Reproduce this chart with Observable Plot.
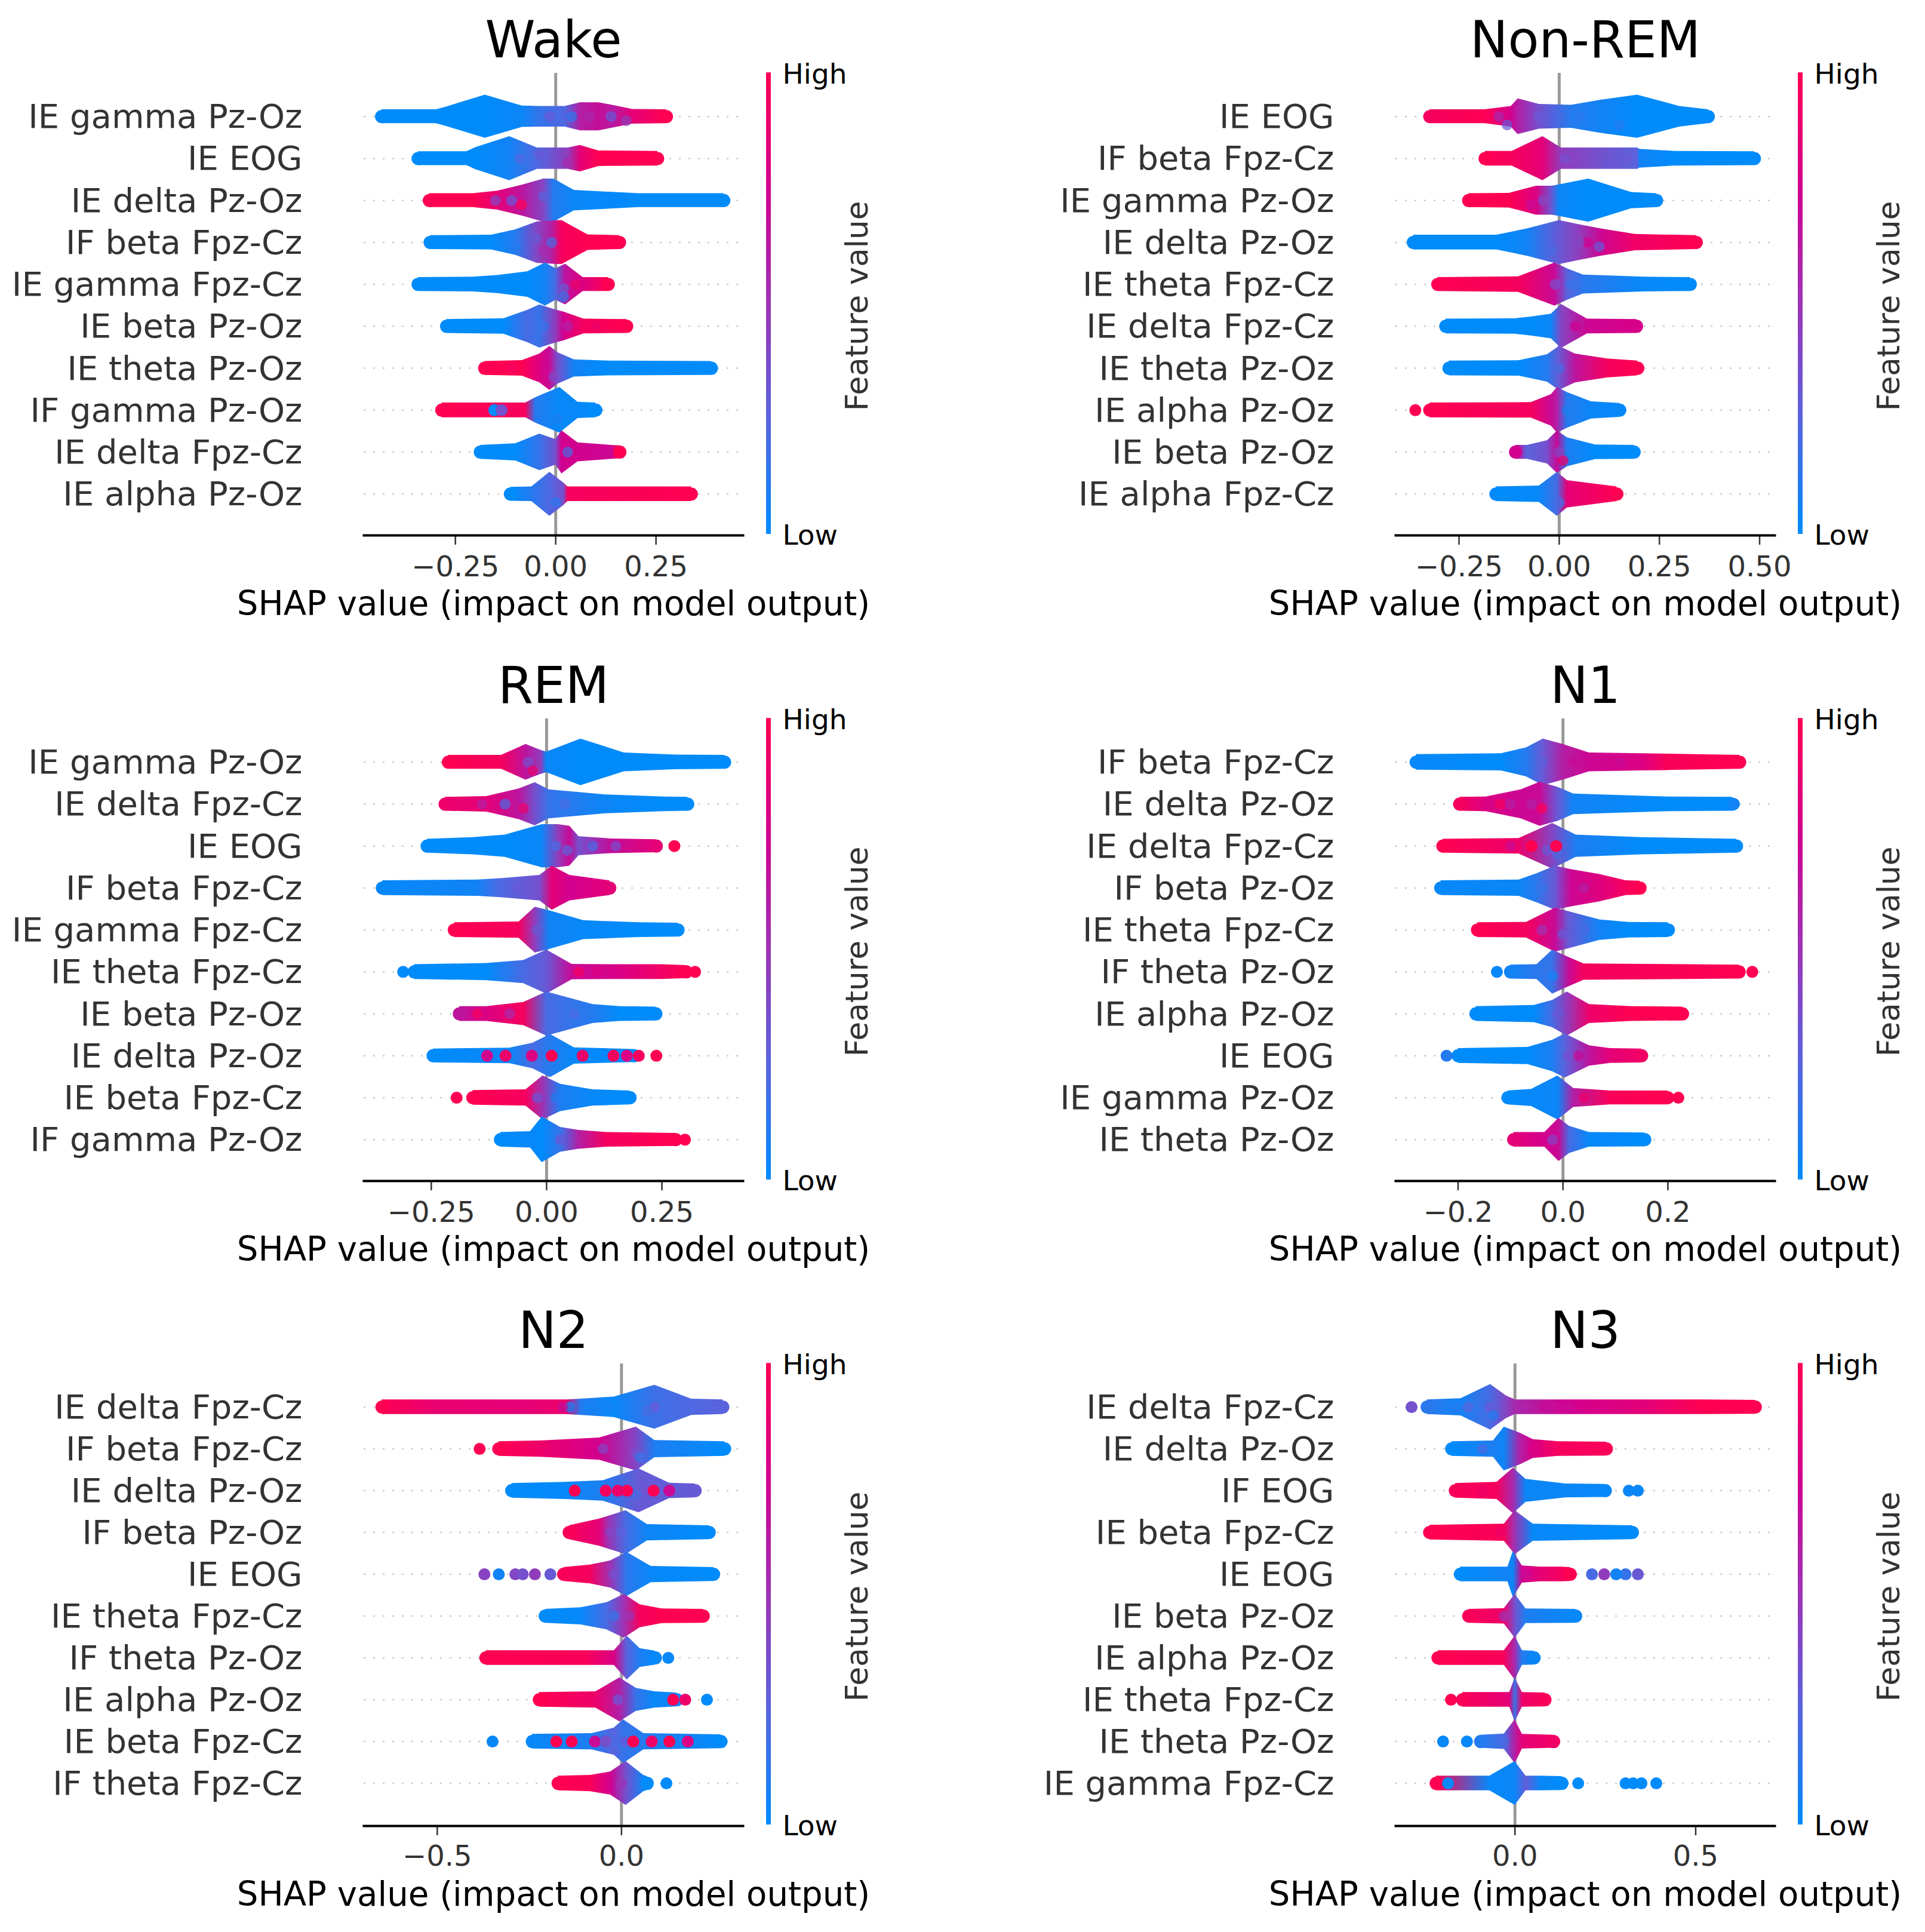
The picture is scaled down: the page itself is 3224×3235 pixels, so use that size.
<!DOCTYPE html>
<html><head><meta charset="utf-8">
<script src="https://cdn.jsdelivr.net/npm/d3@7"></script>
<script src="https://cdn.jsdelivr.net/npm/@observablehq/plot@0.6"></script>
<style>html,body{margin:0;padding:0;background:#fff}#page{position:relative;width:3224px;height:3235px;overflow:hidden;background:#fff}</style>
</head><body><div id="page"></div>
<script>
// Each stop: [SHAP value, swarm half-height in % of a row, feature value 0..1]
// Each dot / mottle: [row, SHAP value, feature value]
const axisLabel = "SHAP value (impact on model output)";

const wakeFeatures = ["IE gamma Pz-Oz","IE EOG","IE delta Pz-Oz","IF beta Fpz-Cz","IE gamma Fpz-Cz","IE beta Pz-Oz","IE theta Pz-Oz","IF gamma Pz-Oz","IE delta Fpz-Cz","IE alpha Pz-Oz"];
const wakeDomain = [-0.478, 0.467];
const wakeTicks = [-0.25, 0, 0.25];
const wakeTickLabels = ["−0.25","0.00","0.25"];
const wakeStops = [
 [[-.434,14,0],[-.298,14,0],[-.275,20,0],[-.176,49,0],[-.084,23,.03],[-.038,22,.15],[.023,22,.22],[.061,31,.6],[.107,31,.68],[.145,24,.62],[.191,15,.85],[.276,14,1]],
 [[-.343,14,0],[-.222,14,0],[-.199,24,0],[-.115,50,.05],[-.046,23,.22],[.031,23,.45],[.061,29,.85],[.107,16,1],[.254,15,1]],
 [[-.315,14,1],[-.206,14,1],[-.145,20,.85],[-.085,34,.65],[-.03,49,.4],[-.005,49,.1],[.046,22,.03],[.207,14,0],[.419,14,0]],
 [[-.313,14,0],[-.16,15,0],[-.1,28,.1],[-.046,47,.4],[-.01,49,.6],[.015,50,.95],[.08,16,1],[.159,14,1]],
 [[-.343,14,0],[-.206,15,0],[-.145,19,0],[-.07,28,0],[-.026,49,.05],[0,35,.2],[.024,46,.65],[.068,14,.8],[.131,14,1]],
 [[-.272,14,0],[-.13,16,0],[-.07,36,.2],[-.04,49,.15],[0,37,.45],[.02,32,.75],[.07,15,.95],[.177,14,1]],
 [[-.177,14,1],[-.084,16,1],[-.04,32,.8],[-.015,50,.7],[.005,35,.35],[.046,18,.05],[.13,15,0],[.388,14,0]],
 [[-.284,15,1],[-.075,15,.95],[-.05,28,.1],[.01,52,.02],[.055,17,.02],[.1,15,0]],
 [[-.188,14,0],[-.1,18,0],[-.04,41,.15],[0,28,.35],[.015,49,.75],[.055,20,.75],[.14,14,.72],[.16,13,1]],
 [[-.113,14,0],[-.06,15,.1],[-.015,50,.22],[.02,24,.35],[.03,15,.95],[.338,15,1]]
];
const wakeDots = [[7,-.153,0],[7,-.135,.35]];
const wakeMottle = [[0,-.015,.3],[0,.04,.12],[0,.084,.55],[0,.138,.3],[0.1,.176,.45],[1,-.09,.22],[.9,-.04,.3],[1.1,.03,.55],[2,-.15,.4],[2,-.11,.3],[2.1,-.085,1],[1.9,-.03,.25],[3.1,-.1,.1],[2.9,-.05,.3],[3.2,-.03,.55],[3,-.01,.2],[4.1,.02,.3],[4,.05,.9],[4.3,.02,.15],[5,-.03,.15],[5,.03,.6],[5,.1,.9],[6,-.11,.95],[6.2,-.005,.4],[7.2,.005,.08],[8,.03,.2],[9,-.02,.2],[9.2,.0,.12]];

const nonRemFeatures = ["IE EOG","IF beta Fpz-Cz","IE gamma Pz-Oz","IE delta Pz-Oz","IE theta Fpz-Cz","IE delta Fpz-Cz","IE theta Pz-Oz","IE alpha Pz-Oz","IE beta Pz-Oz","IE alpha Fpz-Cz"];
const nonRemDomain = [-0.408, 0.538];
const nonRemTicks = [-0.25, 0, 0.25, 0.5];
const nonRemTickLabels = ["−0.25","0.00","0.25","0.50"];
const nonRemStops = [
 [[-.323,14,.95],[-.186,14,1],[-.12,22,.75],[-.103,40,.6],[-.05,27,.35],[.03,25,.1],[.104,37,.05],[.195,49,0],[.3,22,0],[.372,14,0]],
 [[-.185,15,1],[-.118,15,.95],[-.041,50,.85],[.005,23,.45],[.196,23,.25],[.2,20,.05],[.287,15,0],[.487,14,0]],
 [[-.226,14,1],[-.125,15,1],[-.057,32,.8],[-.018,32,.3],[0,35,.03],[.073,49,0],[.18,17,0],[.243,14,0]],
 [[-.364,15,0],[-.156,15,0],[-.08,30,.05],[0,50,.3],[.05,40,.45],[.104,30,.72],[.19,17,.92],[.342,14,1]],
 [[-.303,14,1],[-.102,16,.95],[-.011,49,.7],[.02,35,.25],[.06,20,.12],[.211,15,.02],[.327,14,0]],
 [[-.283,15,0],[-.11,16,0],[-.07,20,0],[-.02,27,.03],[.005,50,.4],[.07,15,.72],[.193,14,.78]],
 [[-.275,15,0],[-.1,16,0],[-.03,30,.1],[0,50,.3],[.04,32,.65],[.12,20,.95],[.196,15,1]],
 [[-.323,15,1],[-.07,16,.95],[-.02,35,.7],[-.005,52,.6],[.02,40,.1],[.08,18,.03],[.151,14,.02]],
 [[-.109,14,.75],[-.08,14,.25],[-.03,25,.35],[-.005,48,.7],[.02,32,.08],[.09,15,0],[.187,14,0]],
 [[-.158,15,0],[-.05,17,.02],[-.005,50,.2],[.02,30,.85],[.144,15,1]]
];
const nonRemDots = [[7,-.359,1]];
const nonRemMottle = [[0,-.15,.55],[.2,-.13,.3],[0,-.05,.3],[0,0,.2],[0,.05,.12],[.2,.15,.1],[1,.015,.35],[1.1,.12,.3],[1,.17,.3],[2.1,-.07,.7],[2,-.04,.4],[3,.07,.75],[3.1,.1,.3],[3,.05,.4],[3.2,-.02,.2],[4,-.01,.35],[4,.03,.15],[5,.04,.75],[6,.0,.2],[7,.02,.08],[8,.0,.4],[8.2,.01,.9],[9.2,0,.2]];

const remFeatures = ["IE gamma Pz-Oz","IE delta Fpz-Cz","IE EOG","IF beta Fpz-Cz","IE gamma Fpz-Cz","IE theta Fpz-Cz","IE beta Pz-Oz","IE delta Pz-Oz","IE beta Fpz-Cz","IF gamma Pz-Oz"];
const remDomain = [-0.396, 0.426];
const remTicks = [-0.25, 0, 0.25];
const remTickLabels = ["−0.25","0.00","0.25"];
const remStops = [
 [[-.213,14,1],[-.098,14,.95],[-.045,40,.65],[-.012,26,.45],[0,22,.03],[.074,53,0],[.168,20,0],[.28,15,0],[.386,14,0]],
 [[-.22,14,.9],[-.13,16,.85],[-.06,34,.65],[-.025,49,.35],[.005,32,.15],[.128,20,.03],[.254,15,0],[.306,14,0]],
 [[-.259,14,0],[-.16,18,0],[-.09,24,0],[-.01,49,.03],[.025,49,.45],[.05,45,.7],[.07,20,.35],[.14,15,.68],[.238,13,.85]],
 [[-.356,15,.02],[-.15,17,.05],[-.1,20,.22],[-.015,28,.35],[.012,50,.85],[.05,28,.75],[.137,15,.85]],
 [[-.2,15,1],[-.06,17,.95],[-.025,52,.45],[.005,44,.05],[.08,20,.02],[.2,15,0],[.285,14,0]],
 [[-.287,15,0],[-.13,18,0],[-.05,25,.2],[0,50,.3],[.055,16,.7],[.15,15,.78],[.25,15,.92],[.303,13,1]],
 [[-.189,15,.65],[-.13,15,.8],[-.05,25,.95],[0,50,.2],[.1,20,.1],[.16,15,0],[.237,14,0]],
 [[-.246,14,0],[-.08,16,.03],[-.03,28,.2],[.008,49,.1],[.06,17,.02],[.19,13,0]],
 [[-.16,15,1],[-.045,17,.95],[-.008,50,.5],[.03,30,.08],[.1,17,.02],[.181,14,0]],
 [[-.1,15,0],[-.035,17,.02],[-.01,52,0],[.03,27,.15],[.07,20,.6],[.13,15,.95],[.28,13,1]]
];
const remDots = [[2,.277,1],[5,-.311,0],[5,.322,1],[7,-.129,.75],[7,-.089,.9],[7,-.032,.8],[7,.011,1],[7,.078,.9],[7,.145,.95],[7,.174,.8],[7,.2,.95],[7,.238,1],[8,-.195,1],[9,.3,1]];
const remMottle = [[0,-.04,.35],[.2,-.03,.9],[1,-.14,.6],[1,-.09,.2],[1.1,-.05,.9],[1,.04,.2],[1,.13,.05],[2,.02,.2],[2.1,.045,.25],[2,.1,.2],[2,.15,.35],[3,-.1,.2],[3,-.06,.3],[3,-.2,.03],[4,-.02,.3],[5,-.09,.1],[5,.07,.95],[5,.11,.8],[6,-.15,.95],[6,-.08,.55],[6,.06,.2],[8,-.02,.3],[8,.02,.1],[9,.03,.3]];

const n1Features = ["IF beta Fpz-Cz","IE delta Pz-Oz","IE delta Fpz-Cz","IF beta Pz-Oz","IE theta Fpz-Cz","IF theta Pz-Oz","IE alpha Pz-Oz","IE EOG","IE gamma Pz-Oz","IE theta Pz-Oz"];
const n1Domain = [-0.319, 0.404];
const n1Ticks = [-0.2, 0, 0.2];
const n1TickLabels = ["−0.2","0.0","0.2"];
const n1Stops = [
 [[-.28,16,.02],[-.118,18,0],[-.07,32,.1],[-.038,53,.3],[0,40,.6],[.05,20,.72],[.15,18,.8],[.2,17,.97],[.337,14,1]],
 [[-.197,14,.95],[-.147,15,.8],[-.08,32,.72],[-.044,50,.7],[-.01,38,.3],[.02,22,.05],[.2,15,0],[.323,14,0]],
 [[-.229,14,1],[-.084,16,.9],[-.02,52,.4],[.025,24,.08],[.15,18,0],[.331,14,0]],
 [[-.233,15,.02],[-.084,17,.03],[-.05,32,.12],[-.015,50,.3],[.015,42,.72],[.07,30,.82],[.12,15,.95],[.147,14,1]],
 [[-.163,15,1],[-.07,16,.95],[-.015,50,.7],[.01,42,.3],[.07,22,.05],[.125,16,0],[.201,15,0]],
 [[-.1,14,.05],[-.05,15,.12],[-.02,50,.15],[.012,32,.7],[.04,17,.95],[.336,14,1]],
 [[-.166,15,0],[-.055,18,0],[-.02,30,.2],[.008,50,.45],[.05,20,.9],[.13,15,1],[.228,14,1]],
 [[-.2,15,0],[-.067,18,0],[-.02,35,.08],[.004,50,.25],[.05,22,.65],[.09,15,.85],[.15,14,.92]],
 [[-.105,14,0],[-.06,18,.02],[-.01,50,.03],[.02,20,.6],[.09,14,.97],[.2,14,1]],
 [[-.094,15,.85],[-.035,15,.75],[-.008,49,.7],[.012,30,.2],[.05,15,.02],[.156,14,0]]
];
const n1Dots = [[1,.326,.05],[2,-.013,1],[2,-.06,1],[5,-.126,.02],[5,.361,1],[7,-.222,.1],[8,.22,1]];
const n1Mottle = [[0,-.1,.05],[0,-.04,.25],[0,.02,.7],[0,.11,.7],[1,-.12,.95],[1,-.1,.6],[1.1,-.04,1],[1,-.06,.6],[2,-.1,.7],[2.1,-.03,.3],[2.2,-.01,.2],[3,-.04,.15],[3,.04,.6],[3,.09,.85],[4,-.04,.5],[4.1,0,.3],[4,.04,.2],[5.1,-.02,.05],[6,-.01,.3],[7,.01,.35],[7,.03,.7],[8,.04,.9],[9,-.02,.4]];

const n2Features = ["IE delta Fpz-Cz","IF beta Fpz-Cz","IE delta Pz-Oz","IF beta Pz-Oz","IE EOG","IE theta Fpz-Cz","IF theta Pz-Oz","IE alpha Pz-Oz","IE beta Fpz-Cz","IF theta Fpz-Cz"];
const n2Domain = [-0.699, 0.33];
const n2Ticks = [-0.5, 0];
const n2TickLabels = ["−0.5","0.0"];
const n2Stops = [
 [[-.65,15,1],[-.52,15,.88],[-.27,15,.85],[-.15,15,.9],[-.11,17,.1],[-.02,22,.02],[.09,50,.17],[.19,17,.22],[.275,15,.25]],
 [[-.333,15,1],[-.22,17,.9],[-.06,24,.75],[.04,50,.4],[.09,18,.08],[.28,15,0]],
 [[-.298,15,0],[-.15,18,.02],[-.05,22,.08],[.047,50,.3],[.13,16,.28],[.2,14,.3]],
 [[-.142,14,.97],[-.06,30,.85],[-.035,37,.5],[.012,50,.2],[.07,17,.04],[.238,14,0]],
 [[-.157,14,.97],[-.085,20,.95],[-.03,30,.5],[.015,50,.12],[.08,17,.02],[.25,14,0]],
 [[-.207,14,0],[-.11,18,.02],[-.04,30,.2],[.007,50,.5],[.05,25,.95],[.11,15,1],[.222,14,1]],
 [[-.368,15,1],[-.1,15,.97],[-.02,15,.8],[.015,50,.25],[.05,20,.08],[.092,14,.02]],
 [[-.223,15,1],[-.07,17,.9],[-.005,50,.6],[.04,25,.15],[.09,17,.02],[.15,14,.05]],
 [[-.242,15,.02],[-.08,17,.08],[-.02,30,.25],[.005,50,.15],[.06,17,.1],[.27,14,0]],
 [[-.172,15,1],[-.085,17,.97],[-.03,25,.75],[.012,50,.35],[.06,17,.05],[.07,14,0]]
];
const n2Dots = [[1,-.385,1],[2,-.127,1],[2,-.043,.95],[2,.015,1],[2,.087,1],[2,.13,.7],[2,-.01,.9],[4,-.372,.42],[4,-.333,.05],[4,-.288,.4],[4,-.268,.35],[4,-.235,.45],[4,-.193,.3],[6,.127,.02],[7,.232,0],[7,.14,1],[7,.173,.9],[8,-.35,.02],[8,-.177,1],[8,-.135,1],[8,-.072,.7],[8,.032,1],[8,.082,.9],[8,.13,1],[8,.18,.8],[8,-.043,.35],[9,.122,0]];
const n2Mottle = [[0,-.14,.05],[0,-.09,.05],[0,-.06,.05],[0,-.03,.05],[0,-.16,.7],[0,.09,.3],[.1,.07,.2],[1,-.05,.4],[1.1,.04,.35],[1.2,.05,.15],[2,.07,.35],[2.1,.04,.2],[3,-.03,.4],[3,.0,.25],[4,-.02,.35],[5,-.02,.15],[5,.02,.5],[7,-.01,.3],[8,-.02,.2],[8,.01,.3],[9,.0,.5]];

const n3Features = ["IE delta Fpz-Cz","IE delta Pz-Oz","IF EOG","IE beta Fpz-Cz","IE EOG","IE beta Pz-Oz","IE alpha Pz-Oz","IE theta Fpz-Cz","IE theta Pz-Oz","IE gamma Fpz-Cz"];
const n3Domain = [-0.33, 0.719];
const n3Ticks = [0, 0.5];
const n3TickLabels = ["0.0","0.5"];
const n3Stops = [
 [[-.243,15,.12],[-.15,18,.05],[-.068,52,.2],[-.025,25,.4],[0,15,.55],[.15,15,.75],[.37,15,.85],[.52,15,1],[.665,14,1]],
 [[-.175,15,0],[-.06,17,.08],[-.03,50,.03],[.015,35,.6],[.05,20,.78],[.12,15,.95],[.253,14,.97]],
 [[-.165,15,.97],[-.05,18,.95],[-.005,52,.55],[.03,25,.03],[.14,14,.03],[.25,13,.02]],
 [[-.236,15,1],[-.03,18,.97],[0,50,.5],[.05,18,.02],[.325,14,0]],
 [[-.151,15,0],[-.02,15,.05],[-.005,53,.03],[.02,18,.75],[.07,15,.85],[.13,15,.95],[.153,14,1]],
 [[-.128,14,.97],[-.03,16,.9],[0,50,.35],[.03,15,.08],[.168,14,.02]],
 [[-.213,15,1],[-.03,15,.97],[0,50,.55],[.02,15,.1],[.053,14,.03]],
 [[-.145,15,.97],[-.015,15,.85],[0,50,.15],[.02,15,.9],[.083,14,.97]],
 [[-.095,13,.1],[-.03,16,.2],[0,50,.6],[.02,15,.85],[.107,13,.92]],
 [[-.218,15,1],[-.07,15,.02],[0,50,.03],[.03,15,.28],[.07,15,.03],[.13,14,0]]
];
const n3Dots = [[0,-.286,.35],[2,.315,.03],[2,.34,.03],[4,.213,.2],[4,.247,.45],[4,.306,.15],[4,.34,.3],[4,.28,.05],[7,-.177,1],[8,-.199,.02],[8,-.133,.02],[9,.175,0],[9,.306,0],[9,.327,0],[9,.35,0],[9,.391,0],[9,-.185,.02]];
const n3Mottle = [[0,-.16,.1],[0,-.13,.25],[0,-.07,.3],[.2,-.06,.1],[0,.08,.7],[0,.15,.7],[0,.3,.8],[1,-.09,.2],[1,.05,.8],[1,.09,.9],[2,-.09,.9],[3,-.04,.9],[4,.03,.7],[5,-.03,.5],[8,-.03,.2]];

const panels = [
 {title:"Wake",features:wakeFeatures,domain:wakeDomain,ticks:wakeTicks,labels:wakeTickLabels,stops:wakeStops,dots:wakeDots,mottle:wakeMottle,col:0,row:0},
 {title:"Non-REM",features:nonRemFeatures,domain:nonRemDomain,ticks:nonRemTicks,labels:nonRemTickLabels,stops:nonRemStops,dots:nonRemDots,mottle:nonRemMottle,col:1,row:0},
 {title:"REM",features:remFeatures,domain:remDomain,ticks:remTicks,labels:remTickLabels,stops:remStops,dots:remDots,mottle:remMottle,col:0,row:1},
 {title:"N1",features:n1Features,domain:n1Domain,ticks:n1Ticks,labels:n1TickLabels,stops:n1Stops,dots:n1Dots,mottle:n1Mottle,col:1,row:1},
 {title:"N2",features:n2Features,domain:n2Domain,ticks:n2Ticks,labels:n2TickLabels,stops:n2Stops,dots:n2Dots,mottle:n2Mottle,col:0,row:2},
 {title:"N3",features:n3Features,domain:n3Domain,ticks:n3Ticks,labels:n3TickLabels,stops:n3Stops,dots:n3Dots,mottle:n3Mottle,col:1,row:2}
];

const colorScale = {type:"linear", domain:[0,.25,.5,.75,1], range:["#008bfb","#5a63dd","#9e33b4","#d2008f","#ff0052"]};
const rowOffsets = [0,1081,2161];
const page = document.getElementById("page");
const font = "DejaVu Sans";

function place(svg,left,top){
  svg.style.position="absolute"; svg.style.left=left+"px"; svg.style.top=top+"px";
  svg.style.maxWidth="none"; svg.style.overflow="visible"; svg.style.background="transparent";
  page.appendChild(svg);
}

panels.forEach((p,pi)=>{
  const left = p.col ? 1612 : 0;
  const marginLeft = p.col ? 725 : 609;
  const marginRight = p.col ? 252 : 368;
  const ends = [];
  p.stops.forEach((stops,r)=>{
    ends.push({r,x:stops[0][0],c:stops[0][2]});
    ends.push({r,x:stops[stops.length-1][0],c:stops[stops.length-1][2]});
  });
  const half = s => (s+2.5)/100;
  const svg = Plot.plot({
    width:1612, height:1074, marginLeft, marginRight, marginTop:122, marginBottom:178,
    style:{fontFamily:font},
    x:{domain:p.domain, axis:null},
    y:{domain:p.row===2?[10.02,-1.037]:[9.985,-1.035], axis:null},
    color:colorScale,
    marks:[
      Plot.ruleY(d3.range(10),{y:d=>d,stroke:"#cccccc",strokeWidth:2.5,strokeDasharray:"3,13"}),
      Plot.ruleX([0],{stroke:"#999999",strokeWidth:5}),
      p.stops.map((stops,r)=>Plot.area(stops,{x1:s=>s[0],x2:s=>s[0],y1:s=>r-half(s[1]),y2:s=>r+half(s[1]),fill:`url(#swarm-${pi}-${r})`})),
      Plot.dot(ends,{x:"x",y:"r",r:11,fill:"c"}),
      Plot.dot(p.mottle,{x:d=>d[1],y:d=>d[0],r:9,fill:d=>d[2],fillOpacity:.7}),
      Plot.dot(p.dots,{x:d=>d[1],y:d=>d[0],r:10,fill:d=>d[2]}),
      Plot.axisY({ticks:d3.range(10),tickFormat:i=>p.features[i],tickSize:0,tickPadding:103,fontSize:56,dy:1,color:"#333333",label:null}),
      Plot.axisX({ticks:p.ticks,tickFormat:(d)=>p.labels[p.ticks.indexOf(d)],tickSize:16,tickPadding:p.row===2?16:18,fontSize:48,color:"#333333",strokeWidth:2.5,label:null}),
      Plot.frame({anchor:"bottom",stroke:"#000",strokeWidth:4}),
      Plot.text([p.title],{frameAnchor:"top",dy:-54,lineAnchor:"middle",fontSize:85,fill:"#000"}),
      Plot.text([axisLabel],{frameAnchor:"bottom",dy:116,lineAnchor:"middle",fontSize:56.2,fill:"#000"})
    ]
  });
  // horizontal colour gradients along each swarm, taken from the shared colour scale
  const sx = svg.scale("x"), sc = svg.scale("color");
  const defs = d3.select(svg).insert("defs",":first-child");
  p.stops.forEach((stops,r)=>{
    const a = sx.apply(stops[0][0]), b = sx.apply(stops[stops.length-1][0]);
    const g = defs.append("linearGradient").attr("id",`swarm-${pi}-${r}`).attr("gradientUnits","userSpaceOnUse")
      .attr("x1",a).attr("x2",b).attr("y1",0).attr("y2",0);
    stops.forEach(s=>g.append("stop").attr("offset",(sx.apply(s[0])-a)/(b-a)).attr("stop-color",sc.apply(s[2])));
  });
  place(svg,left,rowOffsets[p.row]);

  // colour bar
  const steps = d3.range(0,1,1/128);
  const bar = Plot.plot({
    width:200, height:1074, marginLeft:0, marginRight:192, marginTop:122, marginBottom:180,
    style:{fontFamily:font},
    x:{domain:[0,1],axis:null}, y:{domain:[0,1],axis:null},
    color:colorScale,
    marks:[
      Plot.rect(steps,{x1:0,x2:1,y1:d=>d,y2:d=>d+1/128+0.001,fill:d=>d}),
      Plot.text(["High"],{x:1,y:1,dx:19,dy:2,textAnchor:"start",lineAnchor:"middle",fontSize:47,fill:"#000"}),
      Plot.text(["Low"],{x:1,y:0,dx:19,dy:2,textAnchor:"start",lineAnchor:"middle",fontSize:47,fill:"#000"}),
      Plot.text(["Feature value"],{x:1,y:.5,dx:145,dy:4,rotate:-90,lineAnchor:"middle",fontSize:51.5,fill:"#333333"})
    ]
  });
  place(bar,p.col?3011:1283,rowOffsets[p.row]);
});
</script></body></html>
